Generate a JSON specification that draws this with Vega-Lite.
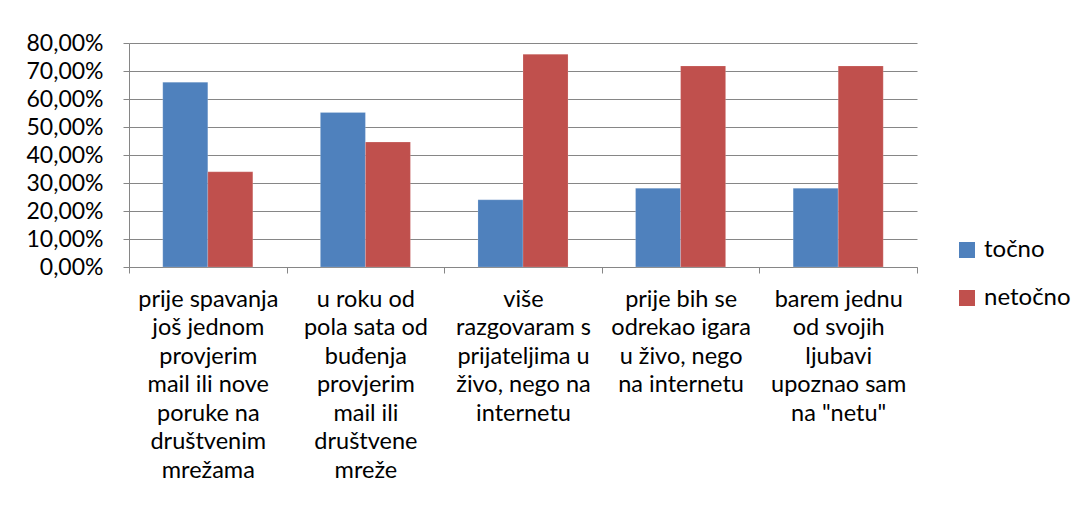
{
  "$schema": "https://vega.github.io/schema/vega-lite/v6.json",
  "autosize": {"type": "none"},
  "width": 788,
  "height": 224,
  "padding": {"left": 129, "top": 43, "right": 166, "bottom": 256},
  "background": "white",
  "config": {
    "font": "Lato",
    "view": {"stroke": null}
  },
  "data": {
    "values": [
      {"kategorija": "prije spavanja|još jednom|provjerim|mail ili nove|poruke na|društvenim|mrežama", "odgovor": "točno", "postotak": 66.0},
      {"kategorija": "prije spavanja|još jednom|provjerim|mail ili nove|poruke na|društvenim|mrežama", "odgovor": "netočno", "postotak": 34.0},
      {"kategorija": "u roku od|pola sata od|buđenja|provjerim|mail ili|društvene|mreže", "odgovor": "točno", "postotak": 55.2},
      {"kategorija": "u roku od|pola sata od|buđenja|provjerim|mail ili|društvene|mreže", "odgovor": "netočno", "postotak": 44.6},
      {"kategorija": "više|razgovaram s|prijateljima u|živo, nego na|internetu", "odgovor": "točno", "postotak": 24.0},
      {"kategorija": "više|razgovaram s|prijateljima u|živo, nego na|internetu", "odgovor": "netočno", "postotak": 76.0},
      {"kategorija": "prije bih se|odrekao igara|u živo, nego|na internetu", "odgovor": "točno", "postotak": 28.1},
      {"kategorija": "prije bih se|odrekao igara|u živo, nego|na internetu", "odgovor": "netočno", "postotak": 71.8},
      {"kategorija": "barem jednu|od svojih|ljubavi|upoznao sam|na \"netu\"", "odgovor": "točno", "postotak": 28.1},
      {"kategorija": "barem jednu|od svojih|ljubavi|upoznao sam|na \"netu\"", "odgovor": "netočno", "postotak": 71.8}
    ]
  },
  "mark": {"type": "bar", "stroke": "#ffffff", "strokeOpacity": 0.35, "strokeWidth": 0.5},
  "encoding": {
    "x": {
      "field": "kategorija",
      "type": "nominal",
      "sort": null,
      "scale": {"paddingInner": 0, "paddingOuter": 0},
      "axis": {
        "title": null,
        "labelAngle": 0,
        "labelExpr": "split(datum.label, '|')",
        "labelFontSize": 23.5,
        "labelLineHeight": 28.5,
        "labelColor": "#000000",
        "labelPadding": 14,
        "labelLimit": 200,
        "tickBand": "extent",
        "tickSize": 6,
        "tickColor": "#868686",
        "domainColor": "#868686",
        "grid": false
      }
    },
    "xOffset": {
      "field": "odgovor",
      "type": "nominal",
      "sort": ["točno", "netočno"],
      "scale": {"paddingInner": 0, "paddingOuter": 0.75}
    },
    "y": {
      "field": "postotak",
      "type": "quantitative",
      "scale": {"domain": [0, 80], "nice": false},
      "axis": {
        "title": null,
        "values": [0, 10, 20, 30, 40, 50, 60, 70, 80],
        "labelExpr": "replace(format(datum.value, '.2f'), '.', ',') + '%'",
        "labelFontSize": 23,
        "labelColor": "#000000",
        "labelPadding": 20,
        "tickSize": 6,
        "tickColor": "#868686",
        "domainColor": "#868686",
        "gridColor": "#868686",
        "gridWidth": 1
      }
    },
    "color": {
      "field": "odgovor",
      "type": "nominal",
      "sort": ["točno", "netočno"],
      "scale": {"domain": ["točno", "netočno"], "range": ["#4F81BD", "#C0504D"]},
      "legend": {
        "title": null,
        "orient": "none",
        "legendX": 826,
        "legendY": 195,
        "symbolType": "square",
        "symbolSize": 256,
        "symbolStrokeWidth": 0,
        "labelFontSize": 24,
        "labelColor": "#000000",
        "rowPadding": 24,
        "labelOffset": 5
      }
    }
  }
}
